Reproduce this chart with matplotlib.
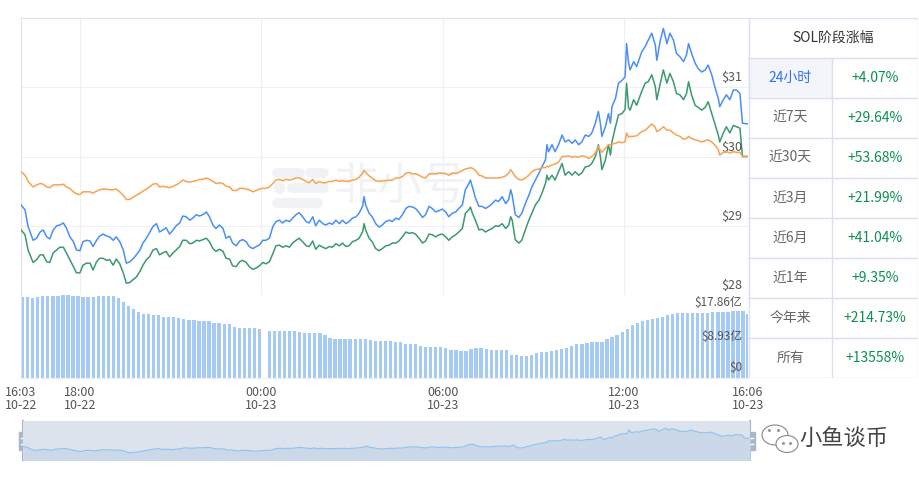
import numpy as np
import matplotlib
matplotlib.use('Agg')
import matplotlib.pyplot as plt
from matplotlib.patches import Rectangle, Ellipse

plt.rcParams['font.family'] = ['Noto Sans CJK SC', 'DejaVu Sans']

# ---------------------------------------------------------------- data
# time in minutes after 16:03 (10-22), last point 16:06 (10-23)
t_end = 1443
minutes = [
    0, 8, 14, 24, 31, 38, 44, 51, 57, 64,
    71, 77, 84, 90, 97, 104, 110, 117, 123, 130,
    137, 143, 150, 156, 163, 170, 176, 183, 189, 196,
    203, 209, 216, 222, 229, 236, 242, 249, 255, 262,
    269, 275, 282, 288, 295, 302, 308, 315, 321, 328,
    335, 341, 348, 354,
    361, 368, 374, 381, 387, 394, 401, 407, 414, 420,
    427, 434, 440, 447, 453, 460, 467, 473, 480, 486,
    493, 500, 506, 513, 519, 526, 533, 539, 546, 552,
    559, 566, 572, 579, 585, 592, 599, 605, 612, 618,
    625, 632, 638, 645, 651, 658, 665, 671, 678, 681,
    684, 691, 697, 704, 711, 717, 724, 731,
    737, 744, 750, 757, 764, 770, 777, 783, 790, 797,
    803, 810, 816, 823, 830, 836, 843, 849, 856, 863,
    869, 876, 882, 889, 892, 896, 902, 909, 915, 922,
    929, 935, 942, 948, 955, 962, 968, 972, 975, 981,
    988, 994, 1001, 1008, 1014, 1021, 1028, 1034, 1041, 1044,
    1047, 1054, 1060, 1067,
    1074, 1080, 1087, 1094, 1100, 1107, 1113, 1120, 1127, 1133,
    1140, 1146, 1150, 1153, 1160, 1166, 1170, 1173, 1180, 1186,
    1193, 1199, 1202, 1206, 1209, 1216, 1222, 1232, 1239, 1245,
    1252, 1259, 1262, 1269, 1275, 1282, 1288, 1295, 1301, 1308,
    1315, 1321, 1325, 1331, 1338, 1344, 1351, 1358, 1364, 1371,
    1377, 1384, 1387, 1394, 1400, 1407, 1414, 1420, 1427, 1432,
    1443]

price_blue = [
    29.30, 29.23, 28.99, 28.79, 28.82, 28.91, 28.94, 28.84, 28.81, 28.94,
    29.00, 29.01, 29.04, 28.97, 28.84, 28.77, 28.65, 28.64, 28.77, 28.79,
    28.78, 28.70, 28.79, 28.85, 28.88, 28.85, 28.84, 28.79, 28.84, 28.77,
    28.65, 28.46, 28.48, 28.52, 28.58, 28.65, 28.75, 28.82, 28.90, 28.99,
    29.03, 28.91, 28.94, 28.97, 28.88, 28.94, 29.00, 29.04, 29.14, 29.13,
    29.08, 29.11, 29.16, 29.14,
    29.16, 29.20, 29.13, 29.01, 28.96, 29.01, 28.96, 28.82, 28.85, 28.75,
    28.71, 28.78, 28.80, 28.77, 28.70, 28.67, 28.70, 28.72, 28.79, 28.79,
    28.82, 28.99, 29.06, 29.08, 29.04, 29.08, 29.06, 29.11, 29.16, 29.19,
    29.13, 29.06, 29.04, 29.13, 29.00, 29.08, 29.03, 29.01, 29.04, 29.02,
    29.08, 29.03, 29.08, 29.03, 29.06, 29.11, 29.13, 29.18, 29.28, 29.42,
    29.30, 29.18, 29.13, 29.03, 28.98, 29.01, 29.06, 29.08,
    29.06, 29.11, 29.09, 29.16, 29.25, 29.28, 29.27, 29.25, 29.19, 29.12,
    29.16, 29.28, 29.25, 29.20, 29.22, 29.24, 29.20, 29.13, 29.18, 29.20,
    29.25, 29.30, 29.52, 29.61, 29.66, 29.56, 29.40, 29.28, 29.28, 29.25,
    29.28, 29.32, 29.37, 29.35, 29.42, 29.32, 29.38, 29.52, 29.44, 29.16,
    29.12, 29.18, 29.32, 29.44, 29.56, 29.66, 29.76, 29.85, 29.95, 30.17,
    30.07, 30.17, 30.07, 30.17,
    30.31, 30.21, 30.24, 30.19, 30.24, 30.17, 30.21, 30.31, 30.29, 30.34,
    30.48, 30.65, 30.48, 30.29, 30.43, 30.62, 30.48, 30.72, 30.84, 31.06,
    31.10, 31.15, 31.63, 31.35, 31.25, 31.37, 31.30, 31.51, 31.59, 31.68,
    31.78, 31.61, 31.39, 31.68, 31.85, 31.63, 31.78, 31.68, 31.49, 31.44,
    31.37, 31.47, 31.63, 31.49, 31.35, 31.27, 31.22, 31.25, 31.32, 31.18,
    31.01, 30.84, 30.72, 30.82, 30.89, 30.82, 30.96, 30.96, 30.91, 30.48,
    30.47]

price_green = [
    28.94, 28.87, 28.65, 28.47, 28.51, 28.58, 28.58, 28.48, 28.47, 28.61,
    28.65, 28.69, 28.69, 28.61, 28.51, 28.41, 28.32, 28.32, 28.43, 28.46,
    28.46, 28.36, 28.48, 28.53, 28.53, 28.50, 28.51, 28.43, 28.52, 28.45,
    28.32, 28.17, 28.18, 28.22, 28.26, 28.34, 28.43, 28.51, 28.55, 28.65,
    28.67, 28.58, 28.61, 28.63, 28.55, 28.61, 28.65, 28.70, 28.79, 28.79,
    28.74, 28.75, 28.79, 28.78,
    28.80, 28.82, 28.77, 28.67, 28.63, 28.66, 28.63, 28.53, 28.52, 28.42,
    28.41, 28.48, 28.50, 28.47, 28.41, 28.37, 28.39, 28.42, 28.47, 28.45,
    28.48, 28.60, 28.71, 28.72, 28.69, 28.71, 28.69, 28.75, 28.79, 28.82,
    28.77, 28.71, 28.70, 28.78, 28.66, 28.72, 28.69, 28.67, 28.70, 28.69,
    28.74, 28.71, 28.75, 28.70, 28.71, 28.77, 28.79, 28.82, 28.91, 29.03,
    28.94, 28.82, 28.77, 28.67, 28.64, 28.67, 28.71, 28.72,
    28.75, 28.75, 28.78, 28.84, 28.91, 28.89, 28.90, 28.88, 28.82, 28.75,
    28.78, 28.88, 28.87, 28.84, 28.87, 28.88, 28.84, 28.79, 28.84, 28.87,
    28.91, 28.96, 29.18, 29.23, 29.27, 29.18, 29.08, 28.94, 28.95, 28.91,
    28.94, 28.96, 29.00, 28.99, 29.03, 28.96, 29.01, 29.13, 29.08, 28.80,
    28.75, 28.79, 28.94, 29.08, 29.18, 29.30, 29.37, 29.47, 29.61, 29.73,
    29.66, 29.73, 29.66, 29.78,
    29.90, 29.73, 29.78, 29.73, 29.78, 29.73, 29.76, 29.85, 29.86, 29.90,
    30.00, 30.17, 30.00, 29.81, 29.95, 30.17, 30.02, 30.21, 30.43, 30.60,
    30.62, 30.68, 31.06, 30.70, 30.67, 30.82, 30.74, 30.94, 31.06, 31.08,
    31.18, 31.01, 30.82, 31.06, 31.25, 31.06, 31.20, 31.08, 30.91, 30.89,
    30.82, 30.91, 31.08, 30.89, 30.74, 30.71, 30.67, 30.71, 30.79, 30.62,
    30.48, 30.31, 30.21, 30.34, 30.43, 30.34, 30.45, 30.43, 30.41, 30.00,
    30.00]

price_orange = [
    29.78, 29.73, 29.64, 29.56, 29.59, 29.61, 29.60, 29.56, 29.55, 29.59,
    29.59, 29.59, 29.60, 29.56, 29.54, 29.49, 29.46, 29.45, 29.49, 29.49,
    29.49, 29.47, 29.50, 29.52, 29.53, 29.53, 29.52, 29.52, 29.53, 29.49,
    29.44, 29.38, 29.38, 29.41, 29.44, 29.47, 29.50, 29.53, 29.56, 29.60,
    29.61, 29.56, 29.57, 29.56, 29.55, 29.57, 29.59, 29.62, 29.66, 29.64,
    29.63, 29.64, 29.65, 29.67,
    29.67, 29.69, 29.67, 29.64, 29.61, 29.62, 29.61, 29.57, 29.56, 29.51,
    29.51, 29.54, 29.54, 29.53, 29.52, 29.49, 29.51, 29.53, 29.54, 29.54,
    29.56, 29.61, 29.66, 29.67, 29.65, 29.67, 29.66, 29.67, 29.69, 29.69,
    29.67, 29.64, 29.62, 29.67, 29.61, 29.64, 29.62, 29.62, 29.64, 29.64,
    29.66, 29.64, 29.65, 29.64, 29.64, 29.66, 29.67, 29.70, 29.76, 29.80,
    29.77, 29.72, 29.69, 29.65, 29.64, 29.65, 29.65, 29.66,
    29.66, 29.69, 29.69, 29.71, 29.76, 29.77, 29.75, 29.75, 29.73, 29.70,
    29.69, 29.75, 29.75, 29.75, 29.76, 29.76, 29.75, 29.73, 29.76, 29.76,
    29.77, 29.80, 29.82, 29.83, 29.84, 29.83, 29.80, 29.73, 29.72, 29.69,
    29.69, 29.69, 29.69, 29.69, 29.70, 29.72, 29.76, 29.81, 29.78, 29.71,
    29.67, 29.66, 29.69, 29.73, 29.78, 29.81, 29.82, 29.84, 29.84, 29.86,
    29.85, 29.88, 29.89, 29.92,
    30.00, 30.00, 30.01, 29.99, 30.00, 29.99, 30.01, 30.00, 29.97, 30.00,
    30.05, 30.15, 30.09, 30.06, 30.12, 30.17, 30.17, 30.18, 30.19, 30.21,
    30.20, 30.21, 30.34, 30.28, 30.29, 30.29, 30.30, 30.36, 30.38, 30.42,
    30.47, 30.42, 30.36, 30.39, 30.43, 30.38, 30.38, 30.34, 30.31, 30.29,
    30.25, 30.26, 30.29, 30.26, 30.24, 30.23, 30.21, 30.23, 30.24, 30.21,
    30.17, 30.10, 30.02, 30.06, 30.07, 30.05, 30.07, 30.06, 30.06, 30.00,
    30.00]

# 24h volume (亿 USD), one bar every 10 minutes
vol_step = 10
volume = [
    17.50, 17.50, 17.15, 17.43, 17.65, 17.65, 17.65, 17.65, 17.86, 17.86,
    17.65, 17.54, 17.37, 17.37, 17.37, 17.54, 17.58, 17.58, 17.54, 17.11,
    16.25, 15.49, 14.85, 14.20, 13.77, 13.77, 13.56, 13.56, 13.19, 13.19,
    13.19, 12.91, 12.59, 12.48, 12.48, 12.37, 12.27, 12.27, 11.84, 11.73,
    11.62, 11.56, 10.98, 10.70, 10.70, 10.70, 10.70, 10.48, 0.00, 10.11,
    10.11, 10.11, 10.11, 10.11, 10.11, 9.90, 9.75, 9.75, 9.75, 9.68,
    9.25, 8.61, 8.33, 8.33, 8.33, 8.33, 8.33, 8.33, 8.33, 8.18,
    7.96, 7.96, 7.96, 7.96, 7.85, 7.75, 7.32, 7.32, 7.21, 6.89,
    6.74, 6.74, 6.74, 6.67, 6.46, 6.13, 5.92, 5.87, 5.87, 6.24,
    6.39, 6.39, 6.24, 6.03, 6.03, 6.03, 6.03, 4.95, 4.95, 4.84,
    4.84, 4.95, 5.38, 5.49, 5.60, 5.81, 6.03, 6.24, 6.46, 6.89,
    7.21, 7.42, 7.53, 7.64, 7.75, 7.85, 8.39, 8.82, 9.36, 9.90,
    10.44, 11.41, 11.94, 12.27, 12.48, 12.70, 12.91, 13.23, 13.56, 13.77,
    13.88, 13.92, 13.99, 13.99, 14.05, 14.05, 14.05, 14.14, 14.27, 14.27,
    14.27, 14.35, 14.42, 14.42, 13.77]

tick_minutes = [0, 117, 477, 837, 1197, 1443]
tick_labels = ['16:03\n10-22', '18:00\n10-22', '00:00\n10-23',
               '06:00\n10-23', '12:00\n10-23', '16:06\n10-23']
price_ticks = [28, 29, 30, 31]
vol_ticks = [17.86, 8.93, 0]
vol_labels = ['$17.86亿', '$8.93亿', '$0']

periods = ['24小时', '近7天', '近30天', '近3月', '近6月', '近1年', '今年来', '所有']
changes = ['+4.07%', '+29.64%', '+53.68%', '+21.99%', '+41.04%', '+9.35%',
           '+214.73%', '+13558%']

# ---------------------------------------------------------------- layout
W, H = 919, 479


def rect(x0, y0, x1, y1):
    """pixel box (top-left origin) -> figure fraction rect"""
    return [x0 / W, 1 - y1 / H, (x1 - x0) / W, (y1 - y0) / H]


c_blue = '#4a8ff5'
c_green = '#3b9a6d'
c_orange = '#f7a352'
c_grid = '#eef0f6'
c_border = '#e0e3ef'
c_text = '#555555'

fig = plt.figure(figsize=(W / 100, H / 100), dpi=100)
fig.patch.set_facecolor('white')

# background layer: watermark, slider handles, wechat mark
bg = fig.add_axes([0, 0, 1, 1], zorder=0)
bg.set_xlim(0, W)
bg.set_ylim(H, 0)
bg.axis('off')

wm = '#f0f2f6'
for (xa, xb, yy) in [(277, 300, 173), (310, 324, 173), (292, 324, 188), (277, 318, 203)]:
    bg.plot([xa, xb], [yy, yy], color=wm, lw=7, solid_capstyle='round', zorder=0)
bg.plot([279], [188], 'o', color=wm, ms=7, zorder=0)
bg.text(400, 186, '非小号', fontsize=32, color=wm,
        ha='center', va='center', zorder=0)

# ---------------------------------------------------------------- price panel
ax = fig.add_axes(rect(21, 18, 748, 295), zorder=1)
ax.set_facecolor('none')
ax.set_xlim(0, t_end)
ax.set_ylim(28, 32)
for p in price_ticks[1:]:
    ax.axhline(p, color=c_grid, lw=0.8, zorder=0)
for m in tick_minutes[1:-1]:
    ax.axvline(m, color=c_grid, lw=0.8, zorder=0)

ax.plot(minutes, price_green, color=c_green, lw=1.1, zorder=3)
ax.plot(minutes, price_blue, color=c_blue, lw=1.1, zorder=3)
ax.plot(minutes, price_orange, color=c_orange, lw=1.1, zorder=4)

for p in price_ticks:
    ax.annotate('$%d' % p, xy=(1, p), xycoords=('axes fraction', 'data'),
                xytext=(-4, 2), textcoords='offset points', ha='right', va='bottom',
                fontsize=9, color=c_text)

ax.set_xticks([])
ax.set_yticks([])
for s in ['left', 'top']:
    ax.spines[s].set_color(c_border)
ax.spines['bottom'].set_color('#e6e8f1')
ax.spines['right'].set_visible(False)

# ---------------------------------------------------------------- volume panel
axv = fig.add_axes(rect(21, 295, 748, 378), zorder=1)
vol_t = np.arange(len(volume)) * vol_step
axv.bar(vol_t, volume, width=6.5, align='edge', color='#a6caf6', lw=0)
axv.set_xlim(0, t_end)
axv.set_ylim(0, 17.86)
axv.set_yticks([])
axv.set_xticks(tick_minutes)
axv.set_xticklabels(tick_labels)
axv.tick_params(axis='x', length=0, pad=6, labelsize=9, colors=c_text)
for lab in axv.get_xticklabels():
    lab.set_linespacing(1.0)
axv.spines['left'].set_color(c_border)
axv.spines['bottom'].set_color('#eceef5')
axv.spines['top'].set_visible(False)
axv.spines['right'].set_visible(False)

axv.annotate(vol_labels[0], xy=(1, 1), xycoords='axes fraction', xytext=(-4, -1),
             textcoords='offset points', ha='right', va='top', fontsize=8.5, color=c_text)
axv.annotate(vol_labels[1], xy=(1, vol_ticks[1]), xycoords=('axes fraction', 'data'),
             xytext=(-4, 0), textcoords='offset points', ha='right', va='center',
             fontsize=8.5, color=c_text)
axv.annotate(vol_labels[2], xy=(1, 0), xycoords='axes fraction', xytext=(-4, 3),
             textcoords='offset points', ha='right', va='bottom', fontsize=8.5, color=c_text)

# ---------------------------------------------------------------- table
axt = fig.add_axes(rect(748, 18, 918, 378), zorder=1)
axt.set_xlim(0, 170)
axt.set_ylim(360, 0)
axt.axis('off')
row_h = 40
split = 84
c_line = '#dcdff0'
axt.add_patch(Rectangle((0, row_h), split, row_h, color='#f3f5fa', lw=0))
for i in range(len(periods) + 2):
    axt.plot([0, 169.5], [i * row_h, i * row_h], color=c_line, lw=1)
axt.plot([0.5, 0.5], [0, 360], color=c_line, lw=1)
axt.plot([169.5, 169.5], [0, 360], color=c_line, lw=1)
axt.plot([split, split], [row_h, 360], color=c_line, lw=1)
axt.text(85, row_h / 2, 'SOL阶段涨幅', ha='center', va='center', fontsize=10, color='#333333')
for i, (per, chg) in enumerate(zip(periods, changes)):
    yc = (i + 1.5) * row_h
    axt.text(split / 2, yc, per, ha='center', va='center', fontsize=10,
             color='#2f6ff0' if i == 0 else '#666666')
    axt.text((split + 170) / 2, yc, chg, ha='center', va='center', fontsize=10,
             color='#0d8f53', fontweight='medium')

# ---------------------------------------------------------------- slider
axs = fig.add_axes(rect(23, 421, 750, 460), zorder=1)
axs.set_facecolor('#dde3ec')
axs.plot(minutes, price_blue, color='#8cc3ec', lw=0.8)
axs.fill_between(minutes, price_blue, 27.0, color='#cbd8e9', lw=0)
axs.set_xlim(0, t_end)
axs.set_ylim(27.45, 32.86)
axs.set_xticks([])
axs.set_yticks([])
for s in axs.spines.values():
    s.set_visible(False)

c_handle = '#a9b7cb'
for xh in [23, 750]:
    bg.plot([xh, xh], [421, 460], color=c_handle, lw=1.5, zorder=5)
    bg.add_patch(Rectangle((xh - 4.5, 432), 9, 18, color=c_handle, zorder=6))
    for yy in [438, 444]:
        bg.plot([xh - 2.5, xh + 2.5], [yy, yy], color='white', lw=1, zorder=7)

# wechat mark + name
bg.add_patch(Ellipse((775, 435), 26, 20, facecolor='white', edgecolor='#888888', lw=0.8, zorder=5))
bg.add_patch(Ellipse((787, 444), 22, 17, facecolor='white', edgecolor='#888888', lw=0.8, zorder=6))
for (ex, ey) in [(769, 430), (778, 430), (783, 443), (790, 443)]:
    bg.plot([ex], [ey], 'o', color='#999999', ms=1.2, zorder=7)
bg.text(844, 438, '小鱼谈币', ha='center', va='center', fontsize=16, color='#444444')

fig.savefig('out.png', dpi=100)
